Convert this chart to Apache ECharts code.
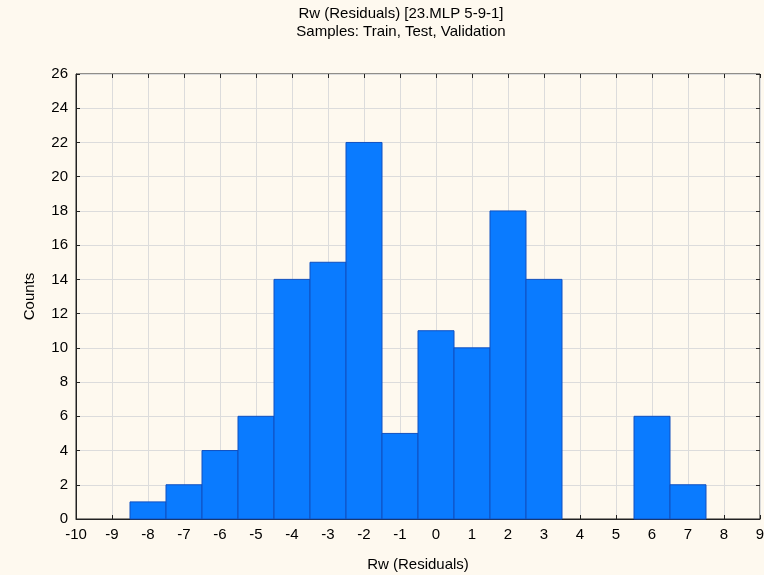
<!DOCTYPE html>
<html>
<head>
<meta charset="utf-8">
<script src="https://cdn.jsdelivr.net/npm/echarts@6/dist/echarts.min.js"></script>
<style>
  html, body { margin: 0; padding: 0; background: #fef9ef; }
  #chart { width: 764px; height: 575px; }
</style>
</head>
<body>
<div id="chart"></div>
<script>
  // histogram bins (centre of each bin) and counts
  var binCenters = [-8, -7, -6, -5, -4, -3, -2, -1, 0, 1, 2, 3, 4, 5, 6, 7];
  var counts = [1, 2, 4, 6, 14, 15, 22, 5, 11, 10, 18, 14, 0, 0, 6, 2];
  var binWidth = 1;

  var chart = echarts.init(document.getElementById('chart'));

  var barData = binCenters.map(function (c, i) { return [c, counts[i]]; });

  var font = 'Liberation Sans, Arial';

  var axisCommon = {
    axisLine: { show: true, onZero: false, lineStyle: { color: '#222', width: 1 } },
    axisTick: { show: true, inside: true, length: 4, lineStyle: { color: '#222' } },
    axisLabel: { color: '#000', fontFamily: font, fontSize: 15 },
    splitLine: { show: true, lineStyle: { color: '#dcdcdc', width: 1 } }
  };

  // mirror axes, only for the inward ticks on top and right
  var mirrorTicks = {
    axisLine: { show: false, onZero: false },
    axisLabel: { show: false },
    splitLine: { show: false },
    axisTick: { show: true, inside: true, length: 4, lineStyle: { color: '#222' } }
  };

  var option = {
    backgroundColor: '#fef9ef',
    animation: false,
    title: {
      text: 'Rw (Residuals) [23.MLP 5-9-1]\nSamples: Train, Test, Validation',
      left: 396,
      top: 0,
      textAlign: 'center',
      textStyle: {
        color: '#000',
        fontFamily: font,
        fontSize: 15,
        fontWeight: 'normal',
        lineHeight: 18
      }
    },
    grid: {
      left: 76, right: 4, top: 74, bottom: 56,
      outerBoundsMode: 'none',
      show: true, borderColor: '#222', borderWidth: 1
    },
    xAxis: [Object.assign({}, axisCommon, {
      type: 'value',
      min: -10,
      max: 9,
      interval: 1,
      name: 'Rw (Residuals)',
      nameLocation: 'middle',
      nameGap: 38,
      nameTextStyle: { color: '#000', fontFamily: font, fontSize: 15 },
      axisLabel: Object.assign({}, axisCommon.axisLabel, { margin: 8 })
    }), Object.assign({ type: 'value', position: 'top', min: -10, max: 9, interval: 1 }, mirrorTicks)],
    yAxis: [Object.assign({}, axisCommon, {
      type: 'value',
      min: 0,
      max: 26,
      interval: 2,
      name: 'Counts',
      nameLocation: 'middle',
      nameGap: 39,
      nameTextStyle: { color: '#000', fontFamily: font, fontSize: 15 },
      axisLabel: Object.assign({}, axisCommon.axisLabel, { margin: 8 })
    }), Object.assign({ type: 'value', position: 'right', min: 0, max: 26, interval: 2 }, mirrorTicks)],
    series: [{
      type: 'custom',
      data: barData,
      renderItem: function (params, api) {
        var x = api.value(0);
        var y = api.value(1);
        if (!y) return null;
        var p0 = api.coord([x - binWidth / 2, y]);
        var p1 = api.coord([x + binWidth / 2, 0]);
        return {
          type: 'rect',
          shape: { x: p0[0], y: p0[1], width: p1[0] - p0[0], height: p1[1] - p0[1] },
          style: { fill: '#0a7bff', stroke: '#1050c0', lineWidth: 1 }
        };
      },
      encode: { x: 0, y: 1 },
      z: 3
    }]
  };

  chart.setOption(option);
  window.addEventListener('resize', function () {
    chart.resize();
  });
</script>
</body>
</html>
